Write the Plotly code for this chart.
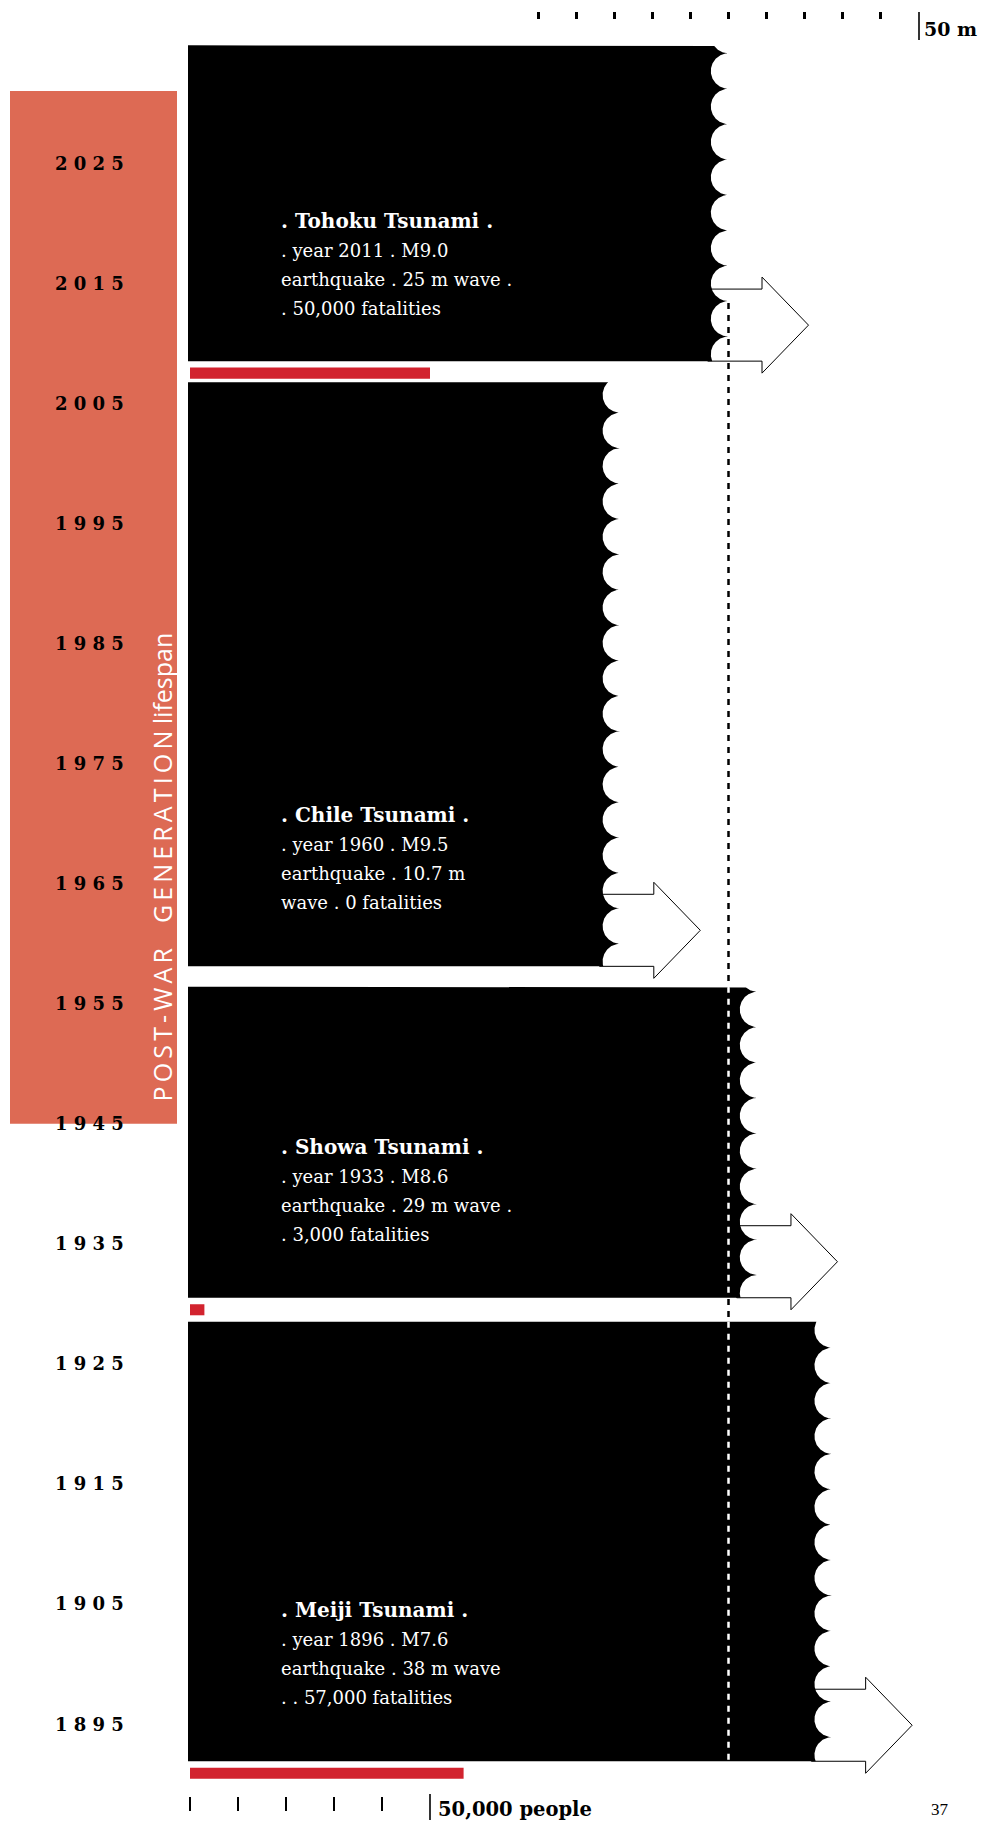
import numpy as np
import plotly.graph_objects as go

# ---------------- data ----------------
events = ["Tohoku", "Chile", "Showa", "Meiji"]
event_years = [2011, 1960, 1933, 1896]
magnitudes = [9.0, 9.5, 8.6, 7.6]
wave_m = [25, 10.8, 28.8, 38.6]          # wave heights as drawn (metres)
fatalities = [50000, 0, 3000, 57000]
label_lines = [
    [". Tohoku Tsunami .", ". year 2011 . M9.0", "earthquake . 25 m wave .", ". 50,000 fatalities"],
    [". Chile Tsunami .", ". year 1960 . M9.5", "earthquake . 10.7 m", "wave . 0 fatalities"],
    [". Showa Tsunami .", ". year 1933 . M8.6", "earthquake . 29 m wave .", ". 3,000 fatalities"],
    [". Meiji Tsunami .", ". year 1896 . M7.6", "earthquake . 38 m wave", ". . 57,000 fatalities"],
]
year_ticks = [2025, 2015, 2005, 1995, 1985, 1975, 1965, 1955, 1945, 1935, 1925, 1915, 1905, 1895]
wave_ticks_m = [0, 5, 10, 15, 20, 25, 30, 35, 40, 45]
wave_scale_max = 50
people_ticks = [0, 10000, 20000, 30000, 40000]
people_scale_max = 50000
lifespan_years = [1945, 2031]
lifespan_label = "P O S T - W A R   G E N E R A T I O N lifespan"
reference_wave = 25  # dotted line at the Tohoku wave height
page_number = "37"

# ---------------- layout constants (window pixels) ----------------
W, H = 995, 1822
OFF = 8                      # page body margin
M_T, M_B = 12, 34            # figure margins
PX_PER_M = 7.62
X0_PX = 538
PX_PER_YEAR = 12.008
Y_REF_YEAR, Y_REF_PX = 2025, 163
P0_PX = 190
PX_PER_PERSON = 240 / 50000

block_top = [2034.8, 2006.75, 1956.4, 1928.5]
block_bottom = [2008.5, 1958.1, 1930.5, 1891.9]
scallop_phase_px = [8, 30.6, 5, 25.9]
label_top = [2020.17, 1970.70, 1943.05, 1904.50]
LINE_STEP = 2.44
R_PX = 17.7
SERIF = "DejaVu Serif"
RED = "#D2232E"
ORANGE = "#DD6A54"


def px_to_m(px):
    return (px - X0_PX) / PX_PER_M


def px_to_year(py):
    return Y_REF_YEAR + (Y_REF_PX - py) / PX_PER_YEAR


def paper_y(py):
    return (H - M_B - (py - OFF)) / (H - M_T - M_B)


x_range = [px_to_m(OFF), px_to_m(W + OFF)]
y_range = [px_to_year(H - M_B + OFF), px_to_year(M_T + OFF)]
x2_range = [(OFF - P0_PX) / PX_PER_PERSON, (W + OFF - P0_PX) / PX_PER_PERSON]

rx = R_PX / PX_PER_M
ry = R_PX / PX_PER_YEAR
block_left = px_to_m(188)

fig = go.Figure()

# arrows (behind the blocks)
for w, yb in zip(wave_m, block_bottom):
    hb = w + 33.5 / PX_PER_M
    tip = w + 80 / PX_PER_M
    sl = w - rx - 0.4
    xs = [sl, hb, hb, tip, hb, hb, sl, sl]
    ys = [yb, yb, yb - 1.0, yb + 3.0, yb + 7.0, yb + 6.0, yb + 6.0, yb]
    fig.add_trace(go.Scatter(x=xs, y=ys, mode="lines", fill="toself", fillcolor="white",
                             line=dict(color="black", width=1), hoverinfo="skip", showlegend=False))

# scalloped blocks
for w, yt, yb, ph in zip(wave_m, block_top, block_bottom, scallop_phase_px):
    yc0 = yt + (R_PX - ph) / PX_PER_YEAR
    ys = np.linspace(yt, yb, 2400)
    k = np.round((yc0 - ys) / (2 * ry))
    yc = yc0 - k * 2 * ry
    d = np.clip((ys - yc) / ry, -1, 1)
    xs = w - rx * np.sqrt(1 - d ** 2)
    X = np.concatenate([[block_left], xs, [block_left, block_left]])
    Y = np.concatenate([[yt], ys, [yb, yt]])
    fig.add_trace(go.Scatter(x=X, y=Y, mode="lines", fill="toself", fillcolor="black",
                             line=dict(color="black", width=0), hoverinfo="skip", showlegend=False))

# dotted reference line
line_top = px_to_year(303)
fig.add_trace(go.Scatter(x=[reference_wave, reference_wave], y=[line_top, block_bottom[-1]], mode="lines",
                         line=dict(color="black", width=2.5, dash="6px,6px"), hoverinfo="skip", showlegend=False))
for w, yt, yb in zip(wave_m, block_top, block_bottom):
    if w - rx > reference_wave:
        fig.add_trace(go.Scatter(x=[reference_wave, reference_wave], y=[yt, yb], mode="lines",
                                 line=dict(color="white", width=2.5, dash="6px,6px"),
                                 hoverinfo="skip", showlegend=False))

# fatality bars
fig.add_trace(go.Bar(x=fatalities, y=[b - 1.0 for b in block_bottom], orientation="h",
                     width=[0.92] * len(fatalities), marker=dict(color=RED, line=dict(width=0)),
                     xaxis="x2", yaxis="y", hoverinfo="skip", showlegend=False))

shapes = [
    dict(type="rect", xref="x", yref="y", x0=px_to_m(10), x1=px_to_m(177),
         y0=lifespan_years[0], y1=lifespan_years[1], fillcolor=ORANGE, line=dict(width=0), layer="below"),
    dict(type="line", xref="x", yref="paper", x0=wave_scale_max, x1=wave_scale_max,
         y0=paper_y(12), y1=paper_y(40), line=dict(color="black", width=1.6)),
    dict(type="line", xref="x2", yref="paper", x0=people_scale_max, x1=people_scale_max,
         y0=paper_y(1794), y1=paper_y(1820), line=dict(color="black", width=1.6)),
]

ann = []
for yr in year_ticks:
    ann.append(dict(x=px_to_m(53), y=yr, xref="x", yref="y", xanchor="left", yanchor="middle",
                    text="<b>" + " ".join(str(yr)) + "</b>", showarrow=False,
                    font=dict(family=SERIF, size=18, color="black")))

for lines, ly in zip(label_lines, label_top):
    for i, t in enumerate(lines):
        txt = "<b>" + t + "</b>" if i == 0 else t
        ann.append(dict(x=px_to_m(279), y=ly - i * LINE_STEP, xref="x", yref="y", xanchor="left",
                        yanchor="middle", text=txt, showarrow=False,
                        font=dict(family=SERIF, size=20 if i == 0 else 18, color="white")))

ann.append(dict(x=px_to_m(161), y=px_to_year(1104), xref="x", yref="y", xanchor="center", yanchor="bottom",
                text=lifespan_label.replace("   ", "\u2003").replace(" ", "\u2009").replace("\u2009lifespan", " lifespan"),
                textangle=-90, showarrow=False,
                font=dict(family="Open Sans", size=25, color="white")))

ann.append(dict(x=wave_scale_max + 0.4, y=paper_y(29), xref="x", yref="paper", xanchor="left", yanchor="middle",
                text="<b>50 m</b>", showarrow=False, font=dict(family=SERIF, size=19, color="black")))
ann.append(dict(x=people_scale_max + 1200, y=paper_y(1809), xref="x2", yref="paper", xanchor="left",
                yanchor="middle", text="<b>50,000 people</b>", showarrow=False,
                font=dict(family=SERIF, size=19.5, color="black")))
ann.append(dict(x=(940 - OFF) / W, y=paper_y(1809), xref="paper", yref="paper", xanchor="center", yanchor="middle",
                text=page_number, showarrow=False, font=dict(family="Liberation Serif", size=17, color="black")))

fig.update_layout(
    width=W, height=H, margin=dict(l=0, r=0, t=M_T, b=M_B, pad=0),
    paper_bgcolor="white", plot_bgcolor="white", showlegend=False,
    xaxis=dict(range=x_range, side="top", showgrid=False, zeroline=False, showline=False,
               ticks="outside", tickvals=wave_ticks_m, ticklen=7, tickwidth=2.5, tickcolor="black",
               showticklabels=False, fixedrange=True),
    xaxis2=dict(range=x2_range, overlaying="x", side="bottom", anchor="y", showgrid=False, zeroline=False,
                showline=False, ticks="outside", tickvals=people_ticks, ticklen=14, tickwidth=1.5,
                tickcolor="black", showticklabels=False, fixedrange=True),
    yaxis=dict(range=y_range, visible=False, fixedrange=True),
    shapes=shapes, annotations=ann,
)

fig.write_html("out.html")
